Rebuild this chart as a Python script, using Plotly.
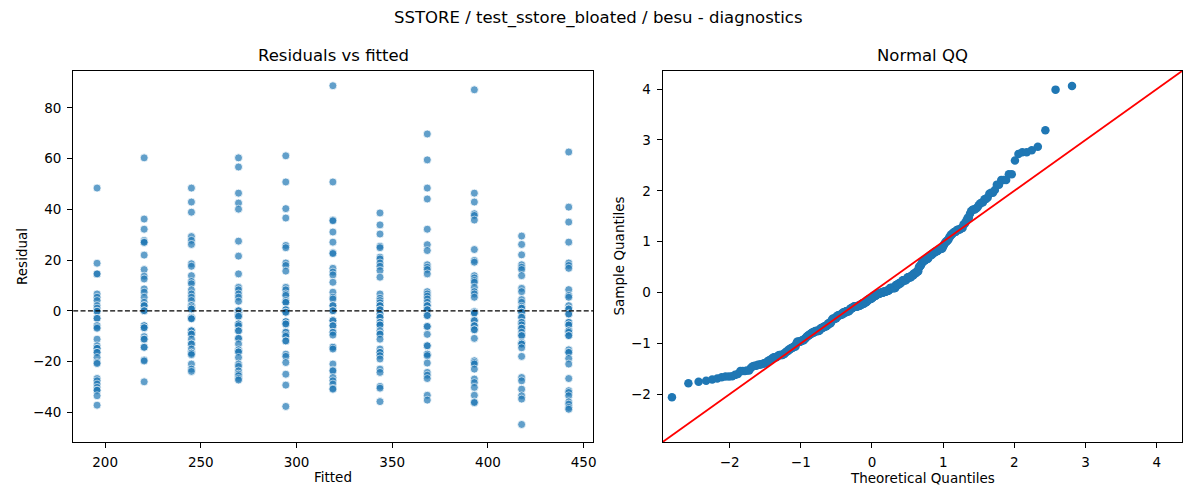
from statistics import NormalDist

import numpy as np
import plotly.graph_objects as go

# fitted value of each group (x position of the columns)
fitted = [195.8, 220.4, 245.1, 269.7, 294.4, 319.0, 343.6, 368.3, 392.9, 417.6, 442.2]

# residuals, one list per fitted value
# (repeated values = points drawn on top of each other, darker spots)
res_196 = [48.4, 18.8, 14.6, 14.6, 6.7, 5.4, 4.1, 2.1, 1.1, -0.1, -0.1,
           -2.9, -2.9, -5.8, -5.8, -6.4, -6.8, -11.1, -13.7, -14.7, -14.7, -16.3, -16.3,
           -18.3, -20.3, -20.7, -26.6, -27.5, -28.8, -30.1, -31.2, -31.2, -33.4, -37.1]
res_220 = [60.3, 36.2, 32.2, 27.8, 27.2, 27.0, 22.0, 16.3, 13.7, 12.6, 8.7, 7.4, 5.4,
           3.4, 2.1, 2.1, 0.1, 0.1, -5.8, -5.8, -6.6, -6.6, -10.1, -11.1, -11.1,
           -14.3, -14.3, -19.3, -19.7, -27.9]
res_245 = [48.4, 42.9, 38.9, 29.3, 27.8, 26.2, 18.6, 17.6, 13.9, 11.6, 10.7, 8.3, 6.7, 5.4,
           4.1, 2.1, 2.1, 1.4, 0.8, 0.8, -2.5, -2.9, -2.9, -3.1, -7.8, -7.8, -9.1,
           -9.1, -11.1, -13.0, -13.0, -15.0, -16.6, -16.6, -17.2, -20.9, -22.9, -23.8]
res_270 = [60.3, 56.7, 46.4, 42.5, 40.1, 27.5, 21.6, 14.6, 9.3, 8.3, 6.7, 5.4, 3.8,
           0.1, 0.1, -1.2, -1.2, -2.1, -2.1, -5.1, -5.1, -5.8, -7.8, -7.8, -10.8, -10.8,
           -13.0, -15.3, -16.1, -16.1, -18.3, -20.9, -21.8, -23.6, -24.9, -25.5, -26.6,
           -27.2]
res_294 = [61.1, 50.8, 40.3, 36.6, 25.8, 24.9, 18.9, 17.9, 15.7, 9.3, 8.3, 6.7, 6.1, 4.1,
           3.4, 3.4, 0.5, 0.5, -0.5, -0.5, -4.2, -4.2, -5.1, -5.1, -8.4, -8.4,
           -9.5, -10.0, -11.8, -11.8, -17.0, -17.9, -20.3, -24.9, -29.2, -37.6]
res_319 = [88.7, 50.8, 35.8, 35.5, 31.1, 27.1, 22.9, 22.6, 16.8, 15.3, 14.2, 11.3, 7.4, 5.4,
           4.7, 2.1, 2.1, 0.1, 0.1, -3.8, -3.8, -5.8, -5.8, -8.4, -8.4, -9.5,
           -14.3, -14.3, -15.0, -20.9, -23.3, -23.6, -26.2, -27.5, -28.8, -30.5, -30.8]
res_343 = [38.6, 33.9, 30.3, 25.5, 24.9, 21.2, 20.5, 18.9, 17.6, 15.9, 13.3, 6.7, 5.0,
           4.1, 3.2, 2.1, 2.1, 0.5, 0.5, -1.2, -1.2, -2.5, -2.5, -4.5, -4.5, -5.5, -5.5,
           -7.8, -9.1, -9.1, -11.1, -15.0, -16.3, -16.3, -17.6, -18.9, -22.9, -24.2, -29.7,
           -30.4, -35.7]
res_368 = [69.7, 59.5, 48.4, 44.1, 32.2, 26.1, 23.8, 18.2, 17.2, 16.3, 14.6, 7.6, 6.7, 5.8,
           4.7, 3.4, 2.1, 2.1, 0.5, 0.5, -1.8, -1.8, -6.1, -6.1, -9.2, -13.7,
           -13.7, -17.0, -17.0, -17.6, -20.5, -24.2, -25.3, -26.6, -33.2, -35.1]
res_393 = [87.1, 46.4, 42.9, 38.3, 37.6, 35.8, 24.2, 19.9, 19.2, 13.9, 13.0, 12.0, 11.3, 9.3,
           7.6, 6.7, 5.4, -0.3, -0.3, -0.8, -0.8, -3.8, -3.8, -5.8, -5.8, -7.4, -7.4,
           -10.8, -19.6, -20.3, -20.9, -22.9, -26.8, -28.2, -30.1, -33.2, -35.8, -36.1]
res_418 = [29.5, 26.2, 22.1, 18.2, 17.2, 16.3, 13.9, 8.9, 7.6, 4.5, 3.4, 1.8, 1.1,
           1.1, -0.5, -0.5, -2.5, -2.5, -4.5, -4.5, -5.5, -6.8, -6.8, -8.4, -9.7, -9.7,
           -12.4, -13.0, -13.0, -14.5, -17.9, -26.2, -27.5, -30.8, -33.4, -34.7, -44.7]
res_442 = [62.6, 40.9, 35.0, 27.1, 18.9, 17.9, 16.8, 8.4, 6.1, 5.4, 2.1, 0.8, 0.8,
           -1.2, -1.2, -4.5, -4.5, -5.5, -5.5, -7.8, -7.8, -8.4, -9.7, -9.7, -15.3, -16.3,
           -16.3, -18.7, -20.9, -26.6, -31.4, -32.1, -33.4, -35.8, -36.7, -38.0, -38.7]

groups = [res_196, res_220, res_245, res_270, res_294, res_319,
          res_343, res_368, res_393, res_418, res_442]

LEFT_XRANGE = [183.3, 455.0]
LEFT_YRANGE = [-51.6, 94.5]
QQ_RANGE = [-2.94, 4.355]

FONT = "DejaVu Sans"
BLUE = "#1f77b4"
W, H = 1200, 500
OFF = 8  # page body margin the figure sits inside


def px_x(px):
    return (px - OFF) / W


def px_y(py):
    return 1 - (py - OFF) / H


# flatten the groups into x / y for the scatter
fit_x, resid = [], []
for fx, vals in zip(fitted, groups):
    fit_x += [fx] * len(vals)
    resid += vals
resid = np.array(resid)

# QQ: standardized sorted residuals vs normal quantiles, plotting pos i/(n+1)
n = len(resid)
sample_q = (np.sort(resid) - resid.mean()) / resid.std()
nd = NormalDist()
theo_q = [nd.inv_cdf(i / (n + 1)) for i in range(1, n + 1)]

fig = go.Figure()

fig.add_trace(go.Scatter(
    x=fit_x, y=resid, mode="markers", xaxis="x", yaxis="y",
    marker=dict(size=8, color=BLUE, opacity=0.7, line=dict(color="white", width=0.8)),
    showlegend=False,
))
fig.add_trace(go.Scatter(
    x=LEFT_XRANGE, y=[0, 0], mode="lines", xaxis="x", yaxis="y",
    line=dict(color="black", width=1.3, dash="5px,2.4px"), showlegend=False,
))

fig.add_trace(go.Scatter(
    x=theo_q, y=sample_q, mode="markers", xaxis="x2", yaxis="y2",
    marker=dict(size=8.5, color=BLUE), showlegend=False,
))
fig.add_trace(go.Scatter(
    x=QQ_RANGE, y=QQ_RANGE, mode="lines", xaxis="x2", yaxis="y2",
    line=dict(color="red", width=1.8), showlegend=False,
))

axis_style = dict(
    showline=True, mirror=True, linecolor="black", linewidth=1.1,
    ticks="outside", ticklen=5, tickwidth=1.1, tickcolor="black",
    showgrid=False, zeroline=False, ticklabelstandoff=3,
    tickfont=dict(family=FONT, size=13.5, color="black"),
)

y_dom = [px_y(442), px_y(71)]

fig.update_layout(
    width=W, height=H,
    margin=dict(l=0, r=0, t=0, b=0),
    paper_bgcolor="white", plot_bgcolor="white",
    font=dict(family=FONT, color="black"),
    xaxis=dict(domain=[px_x(73.3), px_x(594.7)], range=LEFT_XRANGE,
               tickvals=[200, 250, 300, 350, 400, 450], anchor="y", **axis_style),
    yaxis=dict(domain=y_dom, range=LEFT_YRANGE,
               tickvals=[-40, -20, 0, 20, 40, 60, 80], anchor="x", **axis_style),
    xaxis2=dict(domain=[px_x(664.3), px_x(1185)], range=QQ_RANGE,
                tickvals=[-2, -1, 0, 1, 2, 3, 4], anchor="y2", **axis_style),
    yaxis2=dict(domain=y_dom, range=QQ_RANGE,
                tickvals=[-2, -1, 0, 1, 2, 3, 4], anchor="x2", **axis_style),
)


def label(text, px, py, size=13.5, angle=0):
    fig.add_annotation(
        text=text, x=px_x(px), y=px_y(py), xref="paper", yref="paper",
        showarrow=False, textangle=angle, xanchor="center", yanchor="middle",
        font=dict(family=FONT, size=size, color="black"),
    )


label("SSTORE / test_sstore_bloated / besu - diagnostics", 600, 18, size=16.5)
label("Residuals vs fitted", 334, 56, size=16.5)
label("Normal QQ", 924.7, 56, size=16.5)
label("Fitted", 334, 477)
label("Residual", 22, 256, angle=-90)
label("Theoretical Quantiles", 924.7, 478)
label("Sample Quantiles", 621, 256, angle=-90)

fig.write_html("out.html")
